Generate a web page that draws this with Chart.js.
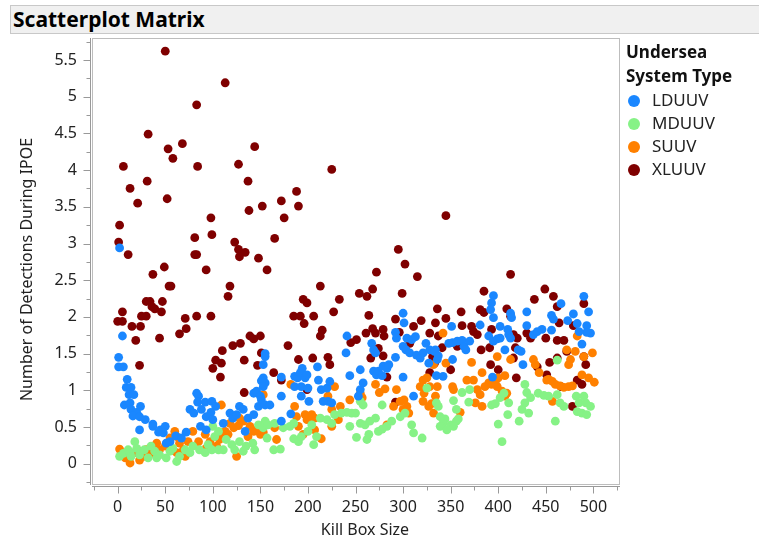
<!DOCTYPE html>
<html>
<head>
<meta charset="utf-8">
<title>Scatterplot Matrix</title>
<script src="https://cdn.jsdelivr.net/npm/chart.js@4.4.1/dist/chart.umd.min.js"></script>
<style>
  body { margin: 0; background: #fff; font-family: "Noto Sans", sans-serif; }
  #wrap { position: relative; width: 759px; height: 544px; overflow: hidden; }
  #chart { position: absolute; left: 0; top: 0; }
  #title {
    position: absolute; left: 10px; top: 5px; width: 760px; height: 27px;
    background: #f0f0f0; border: 1px solid #c8c8c8;
    font-weight: bold; font-size: 21px; line-height: 27px; padding-left: 2px; color: #000;
  }
  #legend { position: absolute; left: 626px; top: 40px; color: #222; font-size: 17px; }
  #legend .head { font-weight: bold; line-height: 24px; color: #111; }
  #legend .item { line-height: 23px; white-space: nowrap; }
  #legend .dot {
    display: inline-block; width: 12px; height: 12px; border-radius: 50%;
    margin: 0 12px 0 2px; vertical-align: -1px;
  }
</style>
</head>
<body>
<div id="wrap">
  <canvas id="chart" width="759" height="544"></canvas>
  <div id="title">Scatterplot Matrix</div>
  <div id="legend"></div>
</div>
<script>
// Kill Box Size vs Number of Detections During IPOE, by system type
const seriesNames = ["LDUUV", "MDUUV", "SUUV", "XLUUV"];
const legendTitle = ["Undersea", "System Type"];
const xTitle = "Kill Box Size";
const yTitle = "Number of Detections During IPOE";
const xTickValues = [0, 50, 100, 150, 200, 250, 300, 350, 400, 450, 500];
const xTickLabels = ["0", "50", "100", "150", "200", "250", "300", "350", "400", "450", "500"];
const yTickValues = [0, 0.5, 1, 1.5, 2, 2.5, 3, 3.5, 4, 4.5, 5, 5.5];
const yTickLabels = ["0", "0.5", "1", "1.5", "2", "2.5", "3", "3.5", "4", "4.5", "5", "5.5"];

// [kill box size, detections]
const ldPoints = [
  [2,2.94],[5,1.74],[1,1.45],[1,1.32],[6,1.32],[10,1.15],[9,1.04],[14,1.04],[12,0.94],[17,0.94],
  [7,0.80],[13,0.83],[14,0.74],[20,0.70],[24,0.78],[16,0.65],[23,0.64],[29,0.60],[37,0.54],[37,0.51],
  [23,0.46],[45,0.46],[50,0.51],[43,0.43],[48,0.42],[61,0.38],[72,0.43],[55,0.30],[67,0.35],[51,0.28],
  [87,0.51],[93,0.46],[76,0.74],[80,0.69],[83,0.96],[85,0.92],[84,0.84],[92,0.84],[88,0.74],[93,0.64],
  [99,0.85],[103,0.78],[98,0.70],[100,0.60],[111,0.55],[118,0.69],[121,0.62],[125,0.67],[128,0.78],[132,0.74],
  [134,0.44],[137,0.62],[143,0.67],[148,0.78],[151,0.87],[143,0.96],[146,0.99],[153,1.17],[155,1.10],[155,1.50],
  [153,1.35],[155,1.46],[151,1.13],[153,1.05],[150,0.92],[155,0.80],[160,0.80],[172,0.92],[172,1.18],[182,0.68],
  [172,0.58],[186,1.19],[189,1.17],[192,1.24],[194,1.30],[197,1.17],[199,1.21],[186,1.05],[193,1.05],[193,0.92],
  [201,0.85],[200,1.03],[210,1.32],[211,1.14],[214,1.01],[220,1.03],[223,1.12],[221,0.85],[216,0.85],[225,0.83],
  [244,1.20],[241,1.74],[240,1.51],[255,1.28],[255,1.01],[258,1.10],[253,0.92],[267,1.64],[269,1.55],[271,1.51],
  [269,1.26],[272,1.21],[274,1.26],[278,1.20],[279,1.33],[283,1.30],[285,1.35],[292,1.45],[300,2.05],[301,1.92],
  [292,1.79],[293,1.71],[300,1.60],[303,1.55],[307,1.51],[304,1.71],[309,1.69],[313,1.73],[300,1.18],[311,0.92],
  [314,1.48],[318,1.44],[321,1.51],[324,1.64],[327,1.37],[334,1.55],[336,1.42],[395,2.29],[393,2.19],[392,2.10],
  [395,1.99],[413,2.05],[414,1.99],[430,2.07],[456,2.02],[458,1.97],[466,2.18],[473,1.95],[479,2.04],[490,2.28],
  [495,2.07],[493,1.88],[497,1.78],[493,1.79],[483,1.91],[485,1.80],[488,1.63],[351,1.87],[381,1.89],[402,1.87],
  [410,1.83],[411,1.76],[413,1.71],[430,1.88],[437,1.76],[441,1.80],[446,1.83],[456,1.82],[352,1.65],[348,1.64],
  [357,1.67],[362,1.68],[364,1.60],[366,1.55],[370,1.67],[390,1.74],[395,1.67],[399,1.70],[402,1.71],[407,1.55],
  [421,1.55],[424,1.53],[328,1.55],[333,1.53],[337,1.47],[352,1.42],[342,1.19],[335,1.20],[426,1.35],[394,1.18]
];
const mdPoints = [
  [2,0.10],[6,0.14],[11,0.19],[13,0.15],[14,0.10],[18,0.30],[20,0.21],[23,0.12],[28,0.19],[32,0.08],
  [35,0.24],[39,0.17],[41,0.08],[44,0.12],[51,0.08],[55,0.17],[58,0.21],[62,0.03],[65,0.10],[71,0.19],
  [76,0.15],[79,0.24],[86,0.19],[92,0.15],[95,0.26],[99,0.19],[102,0.37],[106,0.19],[111,0.19],[114,0.33],
  [120,0.26],[123,0.19],[128,0.30],[132,0.17],[135,0.24],[142,0.28],[144,0.19],[148,0.53],[153,0.49],[157,0.35],
  [100,0.51],[106,0.44],[155,0.58],[158,0.53],[165,0.55],[164,0.19],[171,0.20],[174,0.49],[181,0.51],[185,0.55],
  [185,0.34],[190,0.30],[193,0.37],[200,0.44],[204,0.53],[206,0.26],[209,0.37],[213,0.62],[220,0.60],[225,0.55],
  [228,0.67],[235,0.69],[241,0.70],[246,0.69],[250,0.69],[255,0.85],[258,0.80],[244,0.51],[255,0.55],[260,0.53],
  [265,0.58],[271,0.62],[251,0.36],[262,0.33],[264,0.40],[274,0.44],[278,0.47],[283,0.51],[278,0.80],[288,0.58],
  [297,0.64],[302,0.69],[309,0.53],[311,0.42],[320,0.35],[325,1.03],[462,1.41],[335,0.83],[337,0.78],[353,0.86],
  [362,0.97],[370,1.01],[369,0.84],[356,0.74],[339,0.64],[344,0.61],[342,0.55],[350,0.53],[356,0.58],[358,0.61],
  [339,0.51],[346,0.46],[353,0.51],[393,0.80],[397,0.82],[402,0.90],[411,0.83],[406,0.96],[400,0.54],[410,0.67],
  [404,0.30],[428,1.08],[430,0.97],[434,0.90],[428,0.83],[425,0.74],[432,0.69],[422,0.58],[442,0.96],[448,0.93],
  [453,0.92],[462,0.94],[465,0.83],[469,0.78],[460,0.58],[482,0.92],[485,0.83],[490,0.92],[492,0.83],[497,0.78],
  [483,0.71],[488,0.69],[493,0.67]
];
const suPoints = [
  [2,0.20],[13,0.01],[8,0.08],[18,0.15],[23,0.17],[27,0.10],[23,0.05],[30,0.19],[35,0.14],[41,0.28],
  [44,0.19],[50,0.24],[55,0.35],[60,0.44],[62,0.37],[58,0.18],[62,0.15],[69,0.19],[71,0.10],[65,0.28],
  [74,0.30],[79,0.44],[85,0.30],[92,0.40],[93,0.21],[97,0.30],[104,0.24],[107,0.33],[109,0.42],[113,0.44],
  [116,0.40],[109,0.80],[118,0.55],[122,0.49],[127,0.52],[125,0.10],[128,0.62],[132,0.58],[139,0.51],[143,0.44],
  [146,0.46],[150,0.40],[137,0.37],[153,0.94],[153,0.43],[164,0.53],[165,0.49],[167,0.33],[182,1.08],[186,0.78],
  [188,0.64],[197,0.67],[199,0.60],[204,0.67],[207,0.62],[190,0.51],[195,0.40],[207,0.46],[214,0.34],[228,1.05],
  [221,0.92],[225,0.74],[234,0.78],[225,0.51],[232,0.60],[244,0.87],[255,0.96],[257,0.90],[271,1.08],[275,0.97],
  [281,1.02],[283,0.53],[290,0.78],[293,1.01],[297,0.85],[301,0.87],[304,0.78],[306,0.69],[300,0.74],[318,1.05],
  [322,0.96],[321,1.14],[325,1.17],[327,0.78],[332,0.69],[330,0.82],[334,0.92],[336,1.05],[332,1.35],[321,0.85],
  [342,1.78],[328,1.05],[345,1.37],[352,1.05],[353,1.01],[360,0.70],[367,1.14],[374,1.14],[372,1.38],[383,1.24],
  [378,1.01],[381,0.94],[376,0.83],[383,0.78],[386,1.05],[390,1.10],[397,1.12],[400,1.17],[393,1.08],[399,1.05],
  [404,0.99],[407,0.92],[409,0.96],[399,1.46],[413,1.42],[407,1.20],[437,1.42],[443,1.24],[439,1.35],[451,1.14],
  [453,1.15],[457,1.12],[460,1.08],[465,1.06],[469,1.04],[474,1.05],[478,1.06],[457,0.85],[472,1.55],[476,1.42],
  [474,1.35],[481,1.53],[490,1.46],[499,1.51],[483,1.74],[488,1.21],[495,1.17],[501,1.11]
];
const xlPoints = [
  [50,5.62],[113,5.19],[83,4.89],[32,4.49],[53,4.29],[68,4.36],[58,4.16],[144,4.32],[6,4.05],[84,4.05],
  [127,4.08],[13,3.75],[31,3.85],[137,3.85],[21,3.55],[52,3.61],[138,3.45],[152,3.51],[2,3.25],[98,3.35],
  [81,3.08],[99,3.12],[1,3.02],[123,3.02],[127,2.92],[134,2.88],[11,2.85],[81,2.85],[83,2.85],[128,2.82],
  [148,2.80],[49,2.68],[37,2.58],[93,2.64],[157,2.64],[54,2.42],[56,2.42],[118,2.42],[116,2.28],[30,2.21],
  [34,2.21],[36,2.14],[39,2.11],[47,2.21],[46,2.07],[5,2.07],[25,2.01],[30,2.01],[0,1.94],[5,1.94],
  [15,1.87],[24,1.87],[71,1.98],[83,2.01],[98,2.01],[72,1.84],[65,1.77],[19,1.68],[44,1.71],[23,1.34],
  [139,1.74],[143,1.70],[150,1.74],[110,1.54],[121,1.61],[129,1.64],[103,1.41],[109,1.37],[100,1.30],[133,1.41],
  [151,1.51],[147,1.34],[108,1.18],[133,0.97],[345,3.38],[225,4.01],[188,3.71],[172,3.58],[190,3.51],[175,3.35],
  [165,3.07],[295,2.92],[213,2.42],[195,2.24],[199,2.19],[233,2.24],[227,2.07],[185,2.01],[192,2.01],[206,2.01],
  [196,1.91],[215,1.82],[213,1.74],[179,1.61],[245,1.65],[251,1.69],[190,1.42],[205,1.44],[221,1.45],[223,1.35],
  [164,1.24],[172,1.14],[199,1.01],[272,2.61],[302,2.72],[315,2.55],[254,2.32],[262,2.28],[268,2.38],[299,2.32],
  [264,2.02],[336,2.11],[292,1.97],[319,1.95],[311,1.87],[334,1.92],[268,1.84],[271,1.78],[279,1.83],[280,1.74],
  [261,1.78],[296,1.79],[328,1.78],[274,1.57],[266,1.44],[279,1.47],[307,1.64],[331,1.46],[328,1.24],[283,1.18],
  [292,0.84],[413,2.58],[385,2.35],[449,2.38],[458,2.28],[438,2.24],[490,2.18],[462,2.14],[361,2.07],[381,2.10],
  [385,2.06],[409,2.11],[413,2.01],[345,1.98],[464,1.92],[479,1.88],[362,1.88],[372,1.87],[374,1.80],[378,1.76],
  [393,1.83],[416,1.76],[420,1.71],[430,1.78],[434,1.71],[450,1.71],[462,1.68],[469,1.68],[337,1.74],[357,1.60],
  [341,1.58],[382,1.55],[391,1.58],[418,1.58],[472,1.53],[490,1.46],[333,1.37],[392,1.35],[400,1.28],[416,1.44],
  [441,1.32],[454,1.38],[462,1.44],[492,1.35],[350,1.28],[419,1.17],[451,1.21],[483,1.14],[488,1.08],[466,1.05],
  [478,0.78]
];
const seriesPoints = [ldPoints, mdPoints, suPoints, xlPoints];
const seriesColors = ["#1a87ff", "#86f286", "#ff8000", "#7f0000"];

const tickFont = { family: "Noto Sans", size: 16 };
const textColor = "#222";

// legend on the right
const legend = document.getElementById("legend");
legendTitle.forEach(t => {
  const d = document.createElement("div");
  d.className = "head";
  d.textContent = t;
  legend.appendChild(d);
});
seriesNames.forEach((name, i) => {
  const d = document.createElement("div");
  d.className = "item";
  d.innerHTML = '<span class="dot" style="background:' + seriesColors[i] + '"></span>' + name;
  legend.appendChild(d);
});

// frame, axis lines, major/minor tick marks and the two axis titles
const axisMarks = {
  id: "axisMarks",
  afterDraw(chart) {
    const c = chart.ctx;
    const area = chart.chartArea;
    const xs = chart.scales.x, ys = chart.scales.y;
    c.save();
    c.lineWidth = 1;
    c.strokeStyle = "#bdbdbd";
    c.strokeRect(area.left + 0.5, area.top + 0.5, area.right - area.left - 1, area.bottom - area.top - 1);

    c.strokeStyle = "#999";
    const yAxisX = area.left - 1.5;
    const xAxisY = area.bottom + 1.5;
    c.beginPath();
    c.moveTo(yAxisX, area.top);
    c.lineTo(yAxisX, area.bottom);
    c.moveTo(area.left, xAxisY);
    c.lineTo(area.right, xAxisY);

    const withMinors = vals => {
      const step = vals[1] - vals[0];
      const out = [];
      vals.forEach(v => out.push([v, true], [v + step / 2, false]));
      out.push([vals[0] - step / 2, false]);
      return out;
    };
    withMinors(yTickValues).forEach(([v, major]) => {
      if (v < ys.min || v > ys.max) return;
      const py = Math.round(ys.getPixelForValue(v)) + 0.5;
      c.moveTo(yAxisX, py);
      c.lineTo(yAxisX - (major ? 7 : 4), py);
    });
    withMinors(xTickValues).forEach(([v, major]) => {
      if (v < xs.min || v > xs.max) return;
      const px = Math.round(xs.getPixelForValue(v)) + 0.5;
      c.moveTo(px, xAxisY);
      c.lineTo(px, xAxisY + (major ? 7 : 4));
    });
    c.stroke();

    // axis titles, centred a little past the middle of the plot frame
    c.fillStyle = textColor;
    c.font = "16px 'Noto Sans'";
    c.textAlign = "center";
    c.textBaseline = "middle";
    c.fillText(xTitle, (area.left + area.right) / 2 + 9, 530);
    c.translate(27, (area.top + area.bottom) / 2 + 8);
    c.rotate(-Math.PI / 2);
    c.fillText(yTitle, 0, 0);
    c.restore();
  }
};

new Chart(document.getElementById("chart"), {
  type: "scatter",
  data: {
    datasets: seriesNames.map((name, i) => ({
      label: name,
      data: seriesPoints[i].map(p => ({ x: p[0], y: p[1] })),
      backgroundColor: seriesColors[i],
      borderWidth: 0,
      pointRadius: 4.4,
      pointHoverRadius: 4.4
    }))
  },
  options: {
    responsive: false,
    animation: false,
    events: [],
    layout: { padding: { left: 0, top: 38, right: 139, bottom: 0 } },
    plugins: { legend: { display: false }, tooltip: { enabled: false } },
    scales: {
      x: {
        type: "linear",
        min: -27,
        max: 528,
        afterFit(s) { s.height = 59; },
        afterBuildTicks(s) { s.ticks = xTickValues.map(v => ({ value: v })); },
        grid: { display: false, drawTicks: false },
        border: { display: false },
        ticks: {
          padding: 13, color: textColor, font: tickFont, maxRotation: 0,
          callback: (v, i) => xTickLabels[i]
        }
      },
      y: {
        type: "linear",
        min: -0.29,
        max: 5.80,
        afterFit(s) { s.width = 92; },
        afterBuildTicks(s) { s.ticks = yTickValues.map(v => ({ value: v })); },
        grid: { display: false, drawTicks: false },
        border: { display: false },
        ticks: {
          padding: 15, color: textColor, font: tickFont,
          callback: (v, i) => yTickLabels[i]
        }
      }
    }
  },
  plugins: [axisMarks]
});
</script>
</body>
</html>
